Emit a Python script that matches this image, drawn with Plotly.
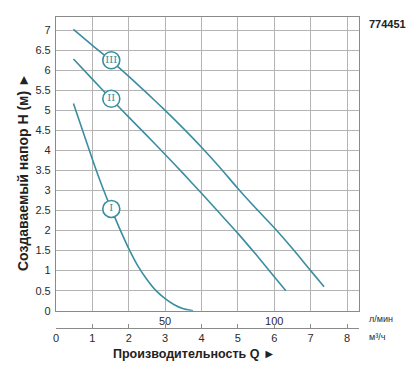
import plotly.graph_objects as go

# ---- data (Q in m3/h, H in m) ----
curve_names = ["I", "II", "III"]
q_I = [0.48, 0.75, 1.0, 1.25, 1.5, 1.75, 2.0, 2.25, 2.5, 2.75, 3.0, 3.25, 3.5, 3.77]
h_I = [5.17, 4.45, 3.78, 3.15, 2.58, 2.05, 1.55, 1.12, 0.78, 0.5, 0.3, 0.15, 0.05, 0.0]
q_II = [0.48, 1.0, 1.5, 2.0, 2.5, 3.0, 3.5, 4.0, 4.5, 5.0, 5.5, 6.0, 6.32]
h_II = [6.28, 5.78, 5.3, 4.83, 4.37, 3.9, 3.42, 2.93, 2.43, 1.93, 1.4, 0.85, 0.5]
q_III = [0.48, 1.0, 1.5, 2.0, 2.5, 3.0, 3.5, 4.0, 4.5, 5.0, 5.5, 6.0, 6.5, 7.0, 7.37]
h_III = [7.02, 6.62, 6.25, 5.85, 5.43, 5.0, 4.55, 4.08, 3.58, 3.05, 2.55, 2.07, 1.55, 1.0, 0.6]
label_q = [1.52, 1.52, 1.52]
label_h = [2.54, 5.29, 6.25]

h_ticks = [0, 0.5, 1, 1.5, 2, 2.5, 3, 3.5, 4, 4.5, 5, 5.5, 6, 6.5, 7]
h_tick_text = ["0", "0.5", "1", "1.5", "2", "2.5", "3", "3.5", "4", "4.5", "5", "5.5", "6", "6.5", "7"]
q_ticks = [0, 1, 2, 3, 4, 5, 6, 7, 8]
lmin_ticks_q = [3, 6]
lmin_tick_text = ["50", "100"]

model_code = "774451"
x_title = "Производительность Q ►"
y_title = "Создаваемый напор H (м) ►"
unit_lmin = "л/мин"
unit_m3h = "м³/ч"

TEAL = "#3a8ea0"
GRID = "#b4b4b4"
BORDER = "#8a8a8a"
TXT = "#2a2a2a"
FONT = "Liberation Sans, Arial, sans-serif"

fig = go.Figure()
for q, h in [(q_I, h_I), (q_II, h_II), (q_III, h_III)]:
    fig.add_trace(go.Scatter(x=q, y=h, mode="lines", line=dict(color=TEAL, width=1.6, shape="spline", smoothing=0.6),
                             hoverinfo="skip", showlegend=False))
fig.add_trace(go.Scatter(x=label_q, y=label_h, mode="markers+text", text=curve_names,
                         textposition="middle center",
                         textfont=dict(color=TEAL, size=10, family="DejaVu Serif, serif"),
                         marker=dict(size=17, color="white", line=dict(color=TEAL, width=1.6)),
                         hoverinfo="skip", showlegend=False))
# dummy trace to keep secondary (m3/h) axis drawn
fig.add_trace(go.Scatter(x=[None], y=[None], xaxis="x2", yaxis="y", showlegend=False, hoverinfo="skip"))

ML, MR, MT, MB = 56, 54, 17, 51
ydom0 = (328 - 310.7) / (328 - 17)
fig.update_layout(
    width=413, height=379,
    margin=dict(l=ML, r=MR, t=MT, b=MB),
    paper_bgcolor="white", plot_bgcolor="white",
    font=dict(family=FONT, size=11, color=TXT),
    xaxis=dict(range=[0, 8.33], tickvals=lmin_ticks_q, ticktext=lmin_tick_text,
               showgrid=True, gridcolor=GRID, gridwidth=1, ticks="",
               minor=dict(dtick=1, tick0=0, showgrid=True, gridcolor=GRID, gridwidth=1),
               showline=True, linecolor=BORDER, linewidth=1.2, mirror=True,
               zeroline=False, tickfont=dict(size=11, color=TXT), ticklabelstandoff=0,
               anchor="y"),
    xaxis2=dict(range=[0, 8.33], overlaying="x", anchor="free", position=0, side="bottom",
                tickvals=q_ticks, ticks="inside", ticklen=4, tickcolor=BORDER,
                showline=True, linecolor=BORDER, linewidth=1.2, showgrid=False, zeroline=False,
                tickfont=dict(size=11, color=TXT)),
    yaxis=dict(range=[0, 7.33], domain=[ydom0, 1], tickvals=h_ticks, ticktext=h_tick_text,
               showgrid=True, gridcolor=GRID, gridwidth=1, ticks="",
               showline=True, linecolor=BORDER, linewidth=1.2, mirror=True,
               zeroline=False, tickfont=dict(size=11, color=TXT), ticklabelstandoff=2),
)

# pixel placements -> paper coords
W_plot = 413 - ML - MR
H_plot = 379 - MT - MB
def px(xp):
    return (xp - ML) / W_plot
def py(yp):
    return (379 - MB - yp) / H_plot

def note(text, x, y, size, xanchor="center", angle=0, color="#222"):
    fig.add_annotation(text=text, x=px(x), y=py(y), xref="paper", yref="paper",
                       xanchor=xanchor, yanchor="middle", showarrow=False, textangle=angle,
                       font=dict(size=size, color=color))

note("<b>" + model_code + "</b>", 387, 24, 11)
note(unit_lmin, 367, 319, 9, xanchor="left", color=TXT)
note(unit_m3h, 367, 337, 9, xanchor="left", color=TXT)
note("<b>" + x_title + "</b>", 194, 354, 12.5)
note("<b>" + y_title + "</b>", 23, 172, 14, angle=-90)

fig.write_html("out.html", config={"displayModeBar": False},
               post_script="document.body.style.margin='0';document.body.style.overflow='hidden';")
